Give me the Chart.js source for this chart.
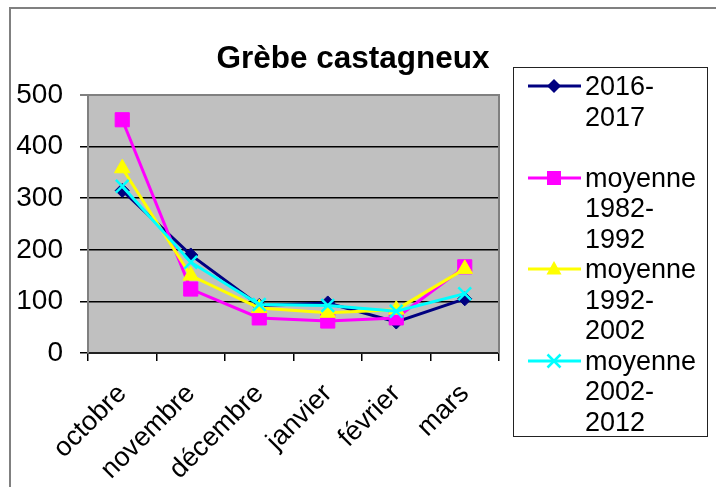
<!DOCTYPE html>
<html><head><meta charset="utf-8">
<script src="https://cdn.jsdelivr.net/npm/chart.js@4"></script>
<style>
html,body{margin:0;padding:0;background:#fff;}
#wrap{position:relative;width:716px;height:487px;overflow:hidden;font-family:'Liberation Sans',Arial,sans-serif;}
#frame{position:absolute;left:9px;top:7px;width:720px;height:490px;border-left:2px solid #808080;border-top:2px solid #808080;}
canvas{position:absolute;left:0;top:0;}
#title{position:absolute;left:153px;width:400px;top:39px;text-align:center;font-weight:bold;font-size:31.5px;line-height:36px;color:#000;}
#legend{position:absolute;left:513px;top:67px;width:195px;height:370px;border:1px solid #222;box-sizing:border-box;padding-top:3px;background:#fff;}
.entry{position:relative;height:91.5px;}
.entry svg{position:absolute;left:13px;top:0;}
.entry .txt{position:absolute;left:71px;top:0;font-size:27px;line-height:30.5px;white-space:pre;color:#000;}
</style></head>
<body>
<div id="wrap">
  <canvas id="c" width="716" height="487"></canvas>
  <div id="frame"></div>
  <div id="title"></div>
  <div id="legend"></div>
</div>
<script>
const chartTitle = 'Grèbe castagneux';
const categories = ['octobre', 'novembre', 'décembre', 'janvier', 'février', 'mars'];
const seriesLabels = ['2016-\n2017\n', 'moyenne\n1982-\n1992', 'moyenne\n1992-\n2002', 'moyenne\n2002-\n2012'];
const s2016_2017 = [315, 190, 92, 97, 60, 105];
const moy1982_1992 = [452, 124, 68, 62, 68, 167];
const moy1992_2002 = [358, 150, 87, 78, 84, 163];
const moy2002_2012 = [323, 176, 94, 92, 81, 115];
const yTicks = [0, 100, 200, 300, 400, 500];

const seriesValues = [s2016_2017, moy1982_1992, moy1992_2002, moy2002_2012];
const seriesColors = ['#000080', '#FF00FF', '#FFFF00', '#00FFFF'];
const seriesStyles = ['rectRot', 'rect', 'triangle', 'crossRot'];
const seriesRadius = [7, 10, 9, 9];

document.getElementById('title').textContent = chartTitle;

const datasets = seriesValues.map((vals, i) => ({
  label: seriesLabels[i].replace(/\n/g, ' ').trim(),
  data: vals,
  borderColor: seriesColors[i],
  backgroundColor: seriesColors[i],
  pointBackgroundColor: seriesColors[i],
  pointBorderColor: seriesColors[i],
  pointStyle: seriesStyles[i],
  pointRadius: seriesRadius[i],
  pointBorderWidth: seriesStyles[i] === 'crossRot' ? 2.5 : 1,
  borderWidth: 3,
  tension: 0,
  clip: false,
  order: seriesValues.length - 1 - i
}));

const plotBg = {
  id: 'plotBg',
  beforeDraw(chart) {
    const {ctx, chartArea: a} = chart;
    ctx.save();
    ctx.fillStyle = '#fff';
    ctx.fillRect(0, 0, chart.width, chart.height);
    ctx.fillStyle = '#C0C0C0';
    ctx.fillRect(a.left, a.top, a.right - a.left, a.bottom - a.top);
    ctx.restore();
  },
  beforeDatasetsDraw(chart) {
    const {ctx, chartArea: a} = chart;
    ctx.save();
    ctx.strokeStyle = '#808080';
    ctx.lineWidth = 2;
    ctx.beginPath();
    ctx.moveTo(a.left, a.top);
    ctx.lineTo(a.right, a.top);
    ctx.lineTo(a.right, a.bottom);
    ctx.stroke();
    ctx.restore();
  }
};

new Chart(document.getElementById('c'), {
  type: 'line',
  data: { labels: categories, datasets },
  options: {
    responsive: false,
    animation: false,
    layout: { padding: { top: 95, left: 10, right: 217, bottom: 0 } },
    plugins: { legend: { display: false }, title: { display: false }, tooltip: { enabled: false } },
    scales: {
      x: {
        offset: true,
        afterFit(s) { s.height = 134; },
        grid: { offset: true, drawOnChartArea: false, tickLength: 8, color: '#000', lineWidth: 1.5 },
        border: { color: '#222', width: 2 },
        ticks: {
          autoSkip: false, minRotation: 45, maxRotation: 45, padding: 17,
          color: '#000', font: { family: "'Liberation Sans', Arial, sans-serif", size: 27 }
        }
      },
      y: {
        min: 0, max: 500,
        afterFit(s) { s.width = 78; },
        afterBuildTicks(s) { s.ticks = yTicks.map(v => ({ value: v })); },
        grid: {
          color: c => (c.tick && c.tick.value === 500) ? '#808080' : '#000',
          lineWidth: c => (c.tick && c.tick.value === 500) ? 2 : 1.5,
          tickLength: 8
        },
        border: { color: '#808080', width: 2 },
        ticks: {
          padding: 17, color: '#000',
          font: { family: "'Liberation Sans', Arial, sans-serif", size: 28 }
        }
      }
    }
  },
  plugins: [plotBg]
});

// HTML legend built from the series arrays
const legend = document.getElementById('legend');
function markerSvg(style, color) {
  let m = '';
  if (style === 'rectRot') m = `<polygon points="27,8 34,15 27,22 20,15" fill="${color}"/>`;
  else if (style === 'rect') m = `<rect x="20" y="8" width="14" height="14" fill="${color}"/>`;
  else if (style === 'triangle') m = `<polygon points="27,7 34.5,20.5 19.5,20.5" fill="${color}"/>`;
  else m = `<path d="M20.5,8.5 L33.5,21.5 M33.5,8.5 L20.5,21.5" stroke="${color}" stroke-width="2.5"/>`;
  return `<svg width="56" height="30" viewBox="0 0 56 30"><line x1="1" y1="15" x2="54" y2="15" stroke="${color}" stroke-width="3"/>${m}</svg>`;
}
seriesLabels.forEach((lab, i) => {
  const e = document.createElement('div');
  e.className = 'entry';
  e.innerHTML = markerSvg(seriesStyles[i], seriesColors[i]);
  const t = document.createElement('div');
  t.className = 'txt';
  t.textContent = lab;
  e.appendChild(t);
  legend.appendChild(e);
});
</script>
</body></html>
